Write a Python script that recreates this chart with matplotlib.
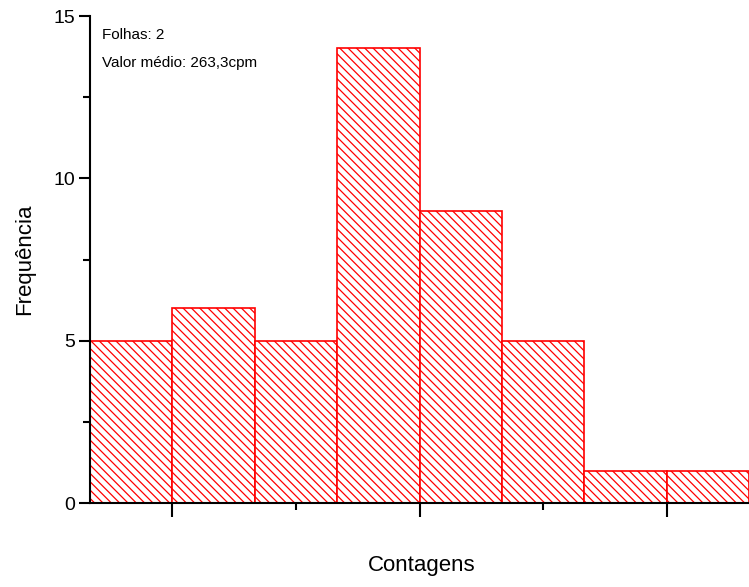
import matplotlib.pyplot as plt
from matplotlib.ticker import MultipleLocator, FixedLocator, NullFormatter

plt.rcParams['font.family'] = ['Liberation Sans', 'DejaVu Sans']
plt.rcParams['hatch.color'] = 'red'
plt.rcParams['hatch.linewidth'] = 0.9

# contagens (cpm) agrupadas em classes de 20
bordas = [180, 200, 220, 240, 260, 280, 300, 320, 340]
frequencias = [5, 6, 5, 14, 9, 5, 1, 1]
folhas = 2
media = "263,3"

fig = plt.figure(figsize=(7.49, 5.87), dpi=100)
ax = fig.add_axes([0.1202, 0.1431, 0.8798, 0.8296])

larguras = [bordas[i + 1] - bordas[i] for i in range(len(frequencias))]
ax.bar(bordas[:-1], frequencias, width=larguras, align='edge',
       facecolor='white', edgecolor='red', linewidth=1.2, hatch='\\\\\\\\')

ax.set_xlim(180, 340)
ax.set_ylim(0, 15)

ax.spines['top'].set_visible(False)
ax.spines['right'].set_visible(False)
ax.spines['left'].set_linewidth(1.5)
ax.spines['bottom'].set_linewidth(1.5)

ax.xaxis.set_major_locator(FixedLocator([200, 260, 320]))
ax.xaxis.set_minor_locator(FixedLocator([230, 290]))
ax.xaxis.set_major_formatter(NullFormatter())
ax.yaxis.set_major_locator(MultipleLocator(5))
ax.yaxis.set_minor_locator(MultipleLocator(2.5))

ax.tick_params(axis='x', which='major', direction='out', length=10, width=1.5)
ax.tick_params(axis='x', which='minor', direction='out', length=5, width=1.5)
ax.tick_params(axis='y', which='major', direction='out', length=8, width=1.5,
               labelsize=14, pad=3)
ax.tick_params(axis='y', which='minor', direction='out', length=5, width=1.5)

ax.set_ylabel('Frequência', fontsize=16, labelpad=13)
fig.text(0.5634, 0.037, 'Contagens', fontsize=16, ha='center', va='center')

ax.text(0.018, 0.975, f'Folhas: {folhas}', transform=ax.transAxes,
        fontsize=11, va='top', ha='left')
ax.text(0.018, 0.918, f'Valor médio: {media}cpm', transform=ax.transAxes,
        fontsize=11, va='top', ha='left')

fig.savefig('out.png', dpi=100)
